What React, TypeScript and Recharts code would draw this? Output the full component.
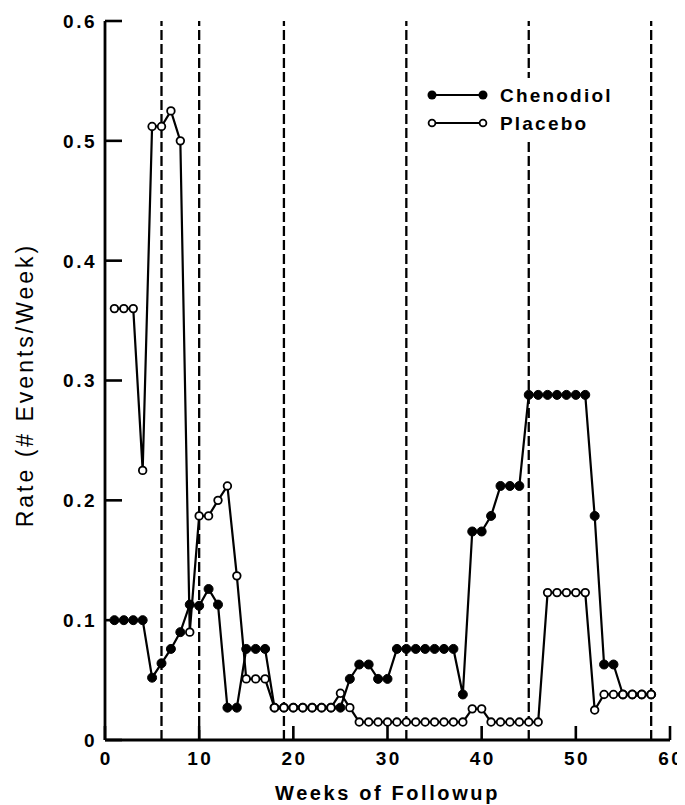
import { LineChart, Line, XAxis, YAxis, ReferenceLine, Legend } from "recharts"

const weeks = [
  1, 2, 3, 4, 5, 6, 7, 8, 9, 10, 11, 12, 13, 14, 15, 16, 17, 18, 19, 20,
  21, 22, 23, 24, 25, 26, 27, 28, 29, 30, 31, 32, 33, 34, 35, 36, 37, 38, 39, 40,
  41, 42, 43, 44, 45, 46, 47, 48, 49, 50, 51, 52, 53, 54, 55, 56, 57, 58,
]

const chenodiol = [
  0.1, 0.1, 0.1, 0.1, 0.052, 0.064, 0.076, 0.09, 0.113, 0.112,
  0.126, 0.113, 0.027, 0.027, 0.076, 0.076, 0.076, 0.027, 0.027, 0.027,
  0.027, 0.027, 0.027, 0.027, 0.027, 0.051, 0.063, 0.063, 0.051, 0.051,
  0.076, 0.076, 0.076, 0.076, 0.076, 0.076, 0.076, 0.038, 0.174, 0.174,
  0.187, 0.212, 0.212, 0.212, 0.288, 0.288, 0.288, 0.288, 0.288, 0.288,
  0.288, 0.187, 0.063, 0.063, 0.038, 0.038, 0.038, 0.038,
]

const placebo = [
  0.36, 0.36, 0.36, 0.225, 0.512, 0.512, 0.525, 0.5, 0.09, 0.187,
  0.187, 0.2, 0.212, 0.137, 0.051, 0.051, 0.051, 0.027, 0.027, 0.027,
  0.027, 0.027, 0.027, 0.027, 0.039, 0.027, 0.015, 0.015, 0.015, 0.015,
  0.015, 0.015, 0.015, 0.015, 0.015, 0.015, 0.015, 0.015, 0.026, 0.026,
  0.015, 0.015, 0.015, 0.015, 0.015, 0.015, 0.123, 0.123, 0.123, 0.123,
  0.123, 0.025, 0.038, 0.038, 0.038, 0.038, 0.038, 0.038,
]

// dashed reference weeks
const dividers = [6, 10, 19, 32, 45, 58]
const xTicks = [0, 10, 20, 30, 40, 50, 60]
const yTicks = [0, 0.1, 0.2, 0.3, 0.4, 0.5, 0.6]

const data = weeks.map((week, i) => ({
  week,
  chenodiol: chenodiol[i],
  placebo: placebo[i],
}))

const FONT = "'Liberation Sans', Arial, Helvetica, sans-serif"

// plot edges in chart coords (margin + axis sizes)
const AXIS_X = 97
const AXIS_Y = 732

const labelProps = {
  fill: "#000",
  fontSize: 19,
  fontWeight: 700,
  fontFamily: FONT,
  letterSpacing: 2.5,
}

// ticks point into the plot, so they are drawn here with the label
const YTick = ({ y, payload }: any) => (
  <g>
    <line x1={AXIS_X} x2={AXIS_X + 17} y1={y} y2={y} stroke="#000" strokeWidth={2.6} />
    <text x={AXIS_X - 8} y={y} dy="0.36em" textAnchor="end" {...labelProps}>
      {payload.value === 0 ? "0" : payload.value.toFixed(1)}
    </text>
  </g>
)

const XTick = ({ x, payload }: any) => (
  <g>
    <line x1={x} x2={x} y1={AXIS_Y} y2={AXIS_Y - 14} stroke="#000" strokeWidth={2.6} />
    <text x={x + 1.2} y={AXIS_Y + 25} textAnchor="middle" {...labelProps}>
      {payload.value}
    </text>
  </g>
)

const LegendBox = () => (
  <svg width={220} height={64} style={{ display: "block" }}>
    <rect x={68} y={0} width={130} height={62} fill="#fff" />
    <line x1={6} y1={17} x2={57} y2={17} stroke="#000" strokeWidth={2.2} />
    <circle cx={6} cy={17} r={4.5} fill="#000" />
    <circle cx={57} cy={17} r={4.5} fill="#000" />
    <text x={74} y={24} fontSize={19} fontWeight={700} fontFamily={FONT} letterSpacing={2.2}>
      Chenodiol
    </text>
    <line x1={6} y1={45} x2={57} y2={45} stroke="#000" strokeWidth={2.2} />
    <circle cx={6} cy={45} r={3.4} fill="#fff" stroke="#000" strokeWidth={1.8} />
    <circle cx={57} cy={45} r={3.4} fill="#fff" stroke="#000" strokeWidth={1.8} />
    <text x={74} y={52} fontSize={19} fontWeight={700} fontFamily={FONT} letterSpacing={2.2}>
      Placebo
    </text>
  </svg>
)

export default function App() {
  return (
    <LineChart
      width={677}
      height={797}
      data={data}
      margin={{ top: 13, right: 15, bottom: 0, left: 0 }}
    >
      <XAxis
        dataKey="week"
        type="number"
        domain={[0, 60]}
        ticks={xTicks}
        interval={0}
        height={65}
        tickLine={false}
        tick={<XTick />}
        axisLine={{ stroke: "#000", strokeWidth: 2.8 }}
        label={{
          content: (props: any) => {
            const vb = props.viewBox || { x: 97, y: 732, width: 565 }
            return (
              <text
                x={vb.x + vb.width / 2}
                y={792}
                textAnchor="middle"
                fontSize={20}
                fontWeight={700}
                fontFamily={FONT}
                letterSpacing={2.6}
                fill="#000"
              >
                Weeks of Followup
              </text>
            )
          },
        }}
      />
      <YAxis
        type="number"
        domain={[0, 0.6]}
        ticks={yTicks}
        interval={0}
        width={97}
        tickLine={false}
        tick={<YTick />}
        axisLine={{ stroke: "#000", strokeWidth: 2.8 }}
        label={{
          content: () => (
            <text
              x={25}
              y={377}
              transform="rotate(-90, 25, 377)"
              textAnchor="middle"
              fontSize={23}
              fontFamily={FONT}
              letterSpacing={3}
              fill="#000"
            >
              Rate (# Events/Week)
            </text>
          ),
        }}
      />
      {dividers.map((w) => (
        <ReferenceLine
          key={w}
          x={w}
          stroke="#000"
          strokeWidth={2.3}
          strokeDasharray="10 4"
        />
      ))}
      <Line
        type="linear"
        dataKey="chenodiol"
        stroke="#000"
        strokeWidth={2.2}
        dot={{ r: 4.5, fill: "#000", stroke: "#000", strokeWidth: 1 }}
        activeDot={false}
        isAnimationActive={false}
      />
      <Line
        type="linear"
        dataKey="placebo"
        stroke="#000"
        strokeWidth={2.2}
        dot={{ r: 3.8, fill: "#fff", stroke: "#000", strokeWidth: 1.8 }}
        activeDot={false}
        isAnimationActive={false}
      />
      <Legend
        layout="vertical"
        align="center"
        verticalAlign="middle"
        wrapperStyle={{ position: "absolute", left: 418, top: 70, width: 220, height: 64 }}
        content={() => <LegendBox />}
      />
    </LineChart>
  )
}
